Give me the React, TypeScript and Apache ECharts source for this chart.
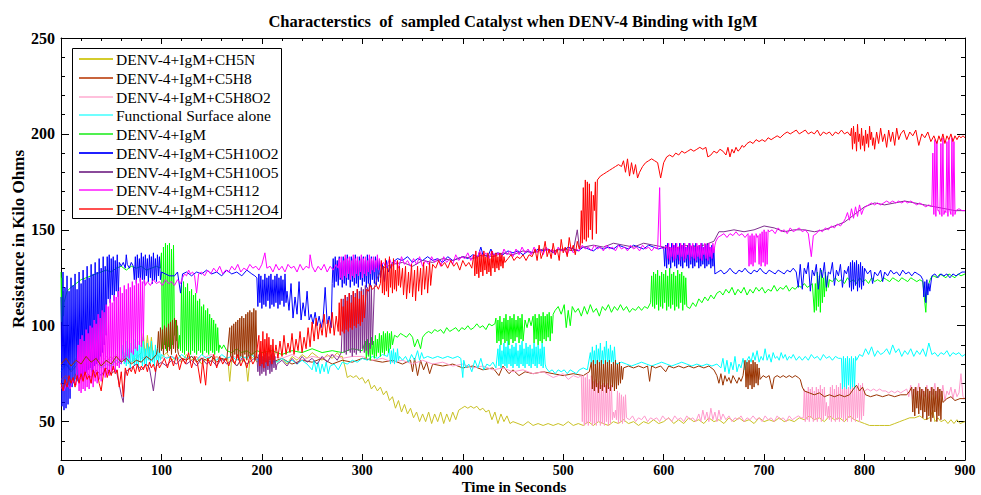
import React, { useEffect, useRef } from "react";
import * as echarts from "echarts";

// ---------- labels ----------
const TITLE = "Characterstics  of  sampled Catalyst when DENV-4 Binding with IgM";
const X_NAME = "Time in Seconds";
const Y_NAME = "Resistance in Kilo Ohms";
const Y_MAJOR = [50, 100, 150, 200, 250];

const NAMES = [
  "DENV-4+IgM+CH5N",
  "DENV-4+IgM+C5H8",
  "DENV-4+IgM+C5H8O2",
  "Functional Surface alone",
  "DENV-4+IgM",
  "DENV-4+IgM+C5H10O2",
  "DENV-4+IgM+C5H10O5",
  "DENV-4+IgM+C5H12",
  "DENV-4+IgM+C5H12O4",
];

// ---------- data: flat [time, value, time, value, ...] ----------
const ch5n = [
  0,78, 5,80, 10,76, 15,79, 20,82, 25,78, 30,80, 35,83, 40,79, 45,81, 50,84, 55,80, 60,82, 65,85, 70,81, 75,83, 80,86,
  82,96, 84,83, 86,95, 88,84, 90,94, 92,83, 95,85, 100,83, 105,86, 110,82, 115,84, 120,81, 125,85, 130,82, 135,84,
  140,80, 145,83, 150,81, 155,84, 160,82, 164,83, 166,83, 168,71, 170,83, 175,79, 180,82, 184,81, 186,71, 188,82,
  192,84, 195,81, 200,83, 205,80, 210,84, 215,81, 220,83, 225,80, 230,84, 235,82, 240,85, 245,83, 250,86, 255,84,
  260,82, 265,85, 270,83, 275,86, 278,84,
  280,84, 283,78, 285,73, 288,74, 291,73, 294,74, 297,72, 300,73, 303,70, 306,72, 309,67, 312,69, 315,66, 318,68,
  321,64, 324,66, 327,61, 330,63, 333,57, 336,61, 339,55, 342,59, 345,54, 348,57, 351,52, 354,55, 357,50, 360,54,
  363,50, 366,55, 369,49, 372,54, 375,50, 378,55, 381,49, 384,54, 387,50, 390,55, 393,51, 396,56, 399,57, 402,58,
  405,57, 408,58, 411,57, 414,58, 417,56, 420,57, 423,55, 426,56, 429,51, 432,55, 435,49, 438,54, 441,50, 444,53,
  447,49, 450,50, 455,49, 460,48, 465,50, 470,48, 475,49, 480,48, 485,49, 490,48, 495,49, 500,48, 505,50, 510,48,
  515,49, 520,48, 525,50, 530,48, 535,50, 540,49, 545,48, 550,50, 555,49, 560,51, 565,49, 570,50, 575,48, 580,50,
  585,49, 590,51, 595,49, 600,50, 605,52, 610,49, 615,51, 620,49, 625,52, 630,50, 635,51, 640,49, 645,52, 650,50,
  655,51, 660,49, 665,52, 670,50, 675,52, 680,50, 685,51, 690,49, 695,52, 700,50, 705,51, 710,50, 715,52, 720,50,
  725,51, 730,50, 735,52, 740,51, 745,53, 750,51, 755,52, 760,50, 765,53, 770,51, 775,52, 780,50, 785,53, 790,51,
  795,50, 800,49, 805,48, 810,48, 815,48, 820,48, 825,48, 830,49, 835,50, 840,51, 845,52, 850,52, 855,53, 860,51,
  865,52, 868,56, 870,50, 873,52, 876,50, 880,51, 883,49, 886,51, 889,49, 892,51, 895,49, 900,50,
];

const c5h8 = [
  0,80, 5,83, 10,79, 15,82, 20,80, 25,84, 30,81, 35,83, 40,79, 45,82, 50,80, 55,84, 60,81, 65,83, 70,80, 75,82,
  80,81, 85,84, 90,82, 95,85,
  96,88, 97,97, 98,86, 99,99, 100,87, 101,98, 102,85, 103,100, 104,88, 105,99, 106,86, 107,101, 108,87, 109,102,
  110,85, 111,103, 112,88, 113,104, 114,86, 115,103, 116,88, 117,85,
  120,83, 125,82, 130,84, 135,81, 140,83, 145,82, 150,84, 155,81, 160,83, 165,82,
  168,99, 169,84, 170,100, 171,82, 172,101, 173,85, 174,102, 175,83, 176,103, 177,82, 178,104, 179,84, 180,105,
  181,83, 182,104, 183,85, 184,106, 185,82, 186,107, 187,84, 188,108, 189,83, 190,107, 191,85, 192,109, 193,82,
  194,108, 195,84, 196,83,
  200,82, 210,81, 220,83, 230,80, 240,82, 250,81, 260,83, 270,80, 280,82, 290,81, 300,83, 310,82, 320,81, 330,82,
  340,80, 348,82, 350,76, 352,83, 355,74, 358,82, 361,77, 364,81, 367,75, 370,80, 380,79, 390,80, 400,78, 410,79,
  420,77, 430,78, 436,74, 440,79, 446,75, 450,77, 456,74, 462,76, 470,75, 480,76, 490,75, 500,74, 510,75, 520,74,
  526,76,
  528,81, 529,67, 530,82, 531,66, 532,80, 533,68, 534,82, 535,65, 536,81, 537,67, 538,82, 539,66, 540,80, 541,68,
  542,82, 543,65, 544,81, 545,67, 546,82, 547,66, 548,80, 549,68, 550,81, 551,66, 552,82, 553,67, 554,80, 555,69,
  556,81, 557,70, 558,79, 559,72, 560,78,
  565,79, 570,78, 575,79, 580,78, 584,79, 586,71, 588,79, 592,78, 597,79, 602,76, 605,79, 610,78, 615,79, 620,78,
  625,79, 630,78, 635,79, 640,78, 645,79, 650,77, 653,74, 655,70, 657,75, 659,69, 661,74, 663,71, 665,73, 667,70,
  669,74, 671,72, 673,70, 675,73, 677,71, 679,74,
  681,82, 682,68, 683,81, 684,67, 685,82, 686,69, 687,80, 688,67, 689,82, 690,68, 691,81, 692,70, 693,80, 694,69,
  695,78, 696,72,
  699,74, 702,73, 705,74, 708,67, 710,73, 713,74, 716,73, 719,74, 722,73, 725,74, 728,73, 731,74, 734,73, 736,72,
  738,68, 740,66, 745,65, 750,64, 755,65, 760,63, 765,64, 770,63, 775,64, 780,63, 785,64, 789,67, 792,69, 795,66,
  798,68, 801,64, 806,63, 812,64, 818,63, 824,64, 830,63, 836,64, 842,64, 845,66,
  847,68, 848,55, 849,67, 850,53, 851,68, 852,57, 853,66, 854,54, 855,68, 856,56, 857,67, 858,52, 859,66, 860,55,
  861,68, 862,51, 863,67, 864,53, 865,66, 866,50, 867,68, 868,52, 869,67, 870,55, 871,66, 872,50, 873,68, 874,53,
  875,67, 876,51, 877,66, 878,60,
  882,62, 886,63, 890,61, 895,62, 900,62,
];

const c5h8o2 = [
  0,80, 5,82, 10,79, 15,83, 20,80, 25,84, 30,81, 35,83, 40,80, 45,84, 50,82, 55,85, 60,82, 65,84, 70,81, 75,85,
  80,83, 85,84, 90,82, 95,85, 100,83, 110,84, 120,82, 130,84, 140,83, 150,85, 160,82, 170,84, 180,83, 190,85,
  200,82, 210,84, 220,83, 230,85, 240,82, 250,84, 260,83, 270,85, 280,83, 290,84, 300,84, 310,82, 320,83, 330,81,
  340,82, 350,80, 360,82, 370,80, 380,81, 390,79, 400,80, 410,78, 420,79, 430,77, 440,78, 450,76, 460,77, 470,75,
  480,76, 490,73, 500,75, 505,72, 510,74, 515,73, 518,74,
  519,50, 520,74, 521,48, 522,73, 523,49, 524,75, 525,48, 526,72, 527,50, 528,74, 529,48, 530,71, 531,49, 532,72,
  533,48, 534,70, 535,50, 536,71, 537,48, 538,69, 539,49, 540,70, 541,48, 542,69, 543,50, 544,70, 545,48, 546,68,
  547,49, 548,69, 549,51, 550,55, 551,52, 552,56, 553,51, 554,66, 555,49, 556,65, 557,50, 558,64, 559,49, 560,63,
  561,50, 562,64, 563,52,
  566,51, 569,53, 572,50, 575,52, 578,51, 581,53, 584,50, 587,52, 590,51, 593,52, 596,50, 599,53, 602,51, 605,52,
  608,50, 611,53, 614,51, 617,52, 620,50, 623,53, 626,51, 629,52, 632,50, 635,54, 637,50, 639,56, 641,51, 643,55,
  645,50, 647,57, 649,51, 651,55, 653,50, 655,56, 657,51, 659,54, 662,51, 665,53, 668,50, 671,52, 674,51, 677,53,
  680,50, 683,52, 686,51, 689,53, 692,51, 695,52, 698,50, 701,53, 704,51, 707,52, 710,50, 713,53, 716,51, 719,52,
  722,50, 725,53, 728,51, 731,52, 734,53, 737,52,
  739,52, 740,67, 741,50, 742,66, 743,51, 744,68, 745,50, 746,67, 747,52, 748,68, 749,50, 750,66, 751,51, 752,68,
  753,50, 754,67, 755,52, 756,69, 757,50, 758,67, 759,51, 760,68, 761,53, 762,60, 763,52, 764,58, 765,51, 766,68,
  767,50, 768,69, 769,52, 770,67, 771,50, 772,69, 773,51, 774,68, 775,50, 776,70, 777,52, 778,68, 779,50, 780,69,
  781,51, 782,70, 783,50, 784,68, 785,52, 786,70, 787,50, 788,69, 789,51, 790,70, 791,50, 792,68, 793,52, 794,70,
  795,50, 796,69, 797,51, 798,70, 799,53, 800,66,
  803,67, 806,66, 809,67, 812,66, 815,67, 818,66, 821,66, 824,65, 827,66, 830,65, 833,66, 836,65, 839,66, 842,67,
  844,63, 846,69, 848,62, 850,68, 852,64, 854,70, 856,61, 858,67, 860,63, 862,69, 864,62, 866,68, 868,64, 870,70,
  872,62, 874,67, 876,63, 878,69, 880,61, 882,66, 884,64, 886,68, 888,62, 890,67, 892,63, 894,65, 896,75, 898,63,
  900,62,
];

const surface = [
  0,76, 5,80, 10,77, 15,81, 20,78, 25,80, 30,77, 35,81, 40,78, 45,80, 50,79, 55,82, 60,80,
  62,90, 63,80, 64,86, 65,79, 66,92, 67,80, 68,88, 69,78, 70,91, 71,81, 72,87, 73,79, 74,93, 75,80, 76,89, 77,78,
  78,92, 79,81, 80,90, 81,79, 82,94, 83,80, 84,88, 85,79, 86,91, 87,82, 88,89, 89,80, 90,92, 91,81, 92,87, 93,79,
  94,90, 95,82, 96,88, 97,80, 98,89, 99,82, 100,85,
  105,83, 110,84, 115,82, 120,85, 125,83, 130,84, 135,82, 140,85, 145,83, 150,84, 155,82, 160,85, 165,83, 170,84,
  175,82, 180,84, 185,83, 190,85, 195,82, 200,84, 205,82, 210,83, 215,81, 220,83, 225,81, 230,82, 235,80, 240,82,
  245,80, 250,77, 252,82, 254,76, 256,81, 258,75, 260,80, 262,76, 264,81, 266,75, 268,79, 272,80, 276,77, 280,81,
  285,80, 290,82, 295,81, 300,83, 305,82, 310,84, 315,83, 320,85, 325,84,
  327,88, 328,80, 329,87, 330,81, 331,88, 332,80, 333,86, 334,81, 335,88, 336,82, 337,84, 340,82, 343,84, 346,81,
  349,85, 352,82, 355,87, 357,82, 359,86, 361,83, 365,84, 370,83, 375,84, 380,83, 385,84, 390,83, 395,84, 398,83,
  400,73, 401,82, 403,78, 406,80, 409,76, 412,82, 415,78, 418,83, 421,77, 424,80, 427,79, 430,81, 433,78,
  435,88, 436,79, 437,90, 438,78, 439,87, 440,80, 441,91, 442,79, 443,89, 444,78, 445,92, 446,80, 447,88, 448,79,
  449,90, 450,78, 451,89, 452,80, 453,91, 454,79, 455,87, 456,78, 457,90, 458,80, 459,92, 460,79, 461,88, 462,78,
  463,91, 464,80, 465,89, 466,79, 467,90, 468,78, 469,88, 470,80, 471,91, 472,79, 473,89, 474,78, 475,90, 476,80,
  477,88, 478,79, 479,91, 480,78, 481,89, 482,80, 483,78,
  486,76, 489,77, 492,75, 495,77, 498,76, 501,77, 504,75, 507,77, 510,76, 513,75, 516,77, 520,78, 524,77,
  527,86, 528,80, 529,89, 530,81, 531,87, 532,79, 533,90, 534,80, 535,88, 536,81, 537,91, 538,79, 539,87, 540,80,
  541,89, 542,82, 543,92, 544,80, 545,88, 546,79, 547,90, 548,81, 549,87, 550,80, 551,89, 552,81, 553,80,
  558,81, 563,80, 568,79, 573,80, 578,81, 583,80, 588,79, 593,80, 598,81, 603,80, 608,79, 613,80, 618,81, 623,80,
  628,79, 633,80, 638,79, 643,80, 648,79, 653,80, 657,78,
  659,83, 661,76, 663,82, 665,75, 667,81, 669,77, 671,84, 673,76, 675,80, 677,78, 679,83, 681,77, 683,82,
  685,84, 687,81, 689,86, 691,82, 693,87, 695,81, 697,84, 699,82, 701,88, 703,82, 705,85, 707,81, 709,86, 711,83,
  713,84, 715,82, 717,86, 719,83, 721,85, 723,82, 725,84, 727,83, 729,85,
  732,82, 735,84, 738,82, 741,84, 744,82, 747,85, 750,83, 753,84, 756,82, 759,85, 762,83, 765,84, 768,82, 771,84,
  774,83, 776,83,
  777,83, 778,67, 779,84, 780,68, 781,83, 782,67, 783,84, 784,69, 785,83, 786,67, 787,84, 788,68, 789,83, 790,67,
  791,84, 792,82,
  795,85, 798,84, 801,88, 804,85, 807,89, 810,84, 813,87, 816,85, 819,86, 822,88, 825,85, 828,90, 831,86, 834,88,
  837,84, 840,87, 843,85, 846,88, 849,84, 852,87, 855,85, 858,88, 861,84, 864,91, 867,85, 870,86, 873,84, 876,86,
  879,85, 882,87, 885,84, 888,86, 891,85, 894,86, 897,84, 900,85,
];

const igm = [
  0,128, 0.5,102, 1,125, 1.5,100, 2,118, 2.5,105, 3,112,
  6,118, 10,120, 15,122, 20,124, 25,125, 30,126, 35,127, 40,128, 45,129, 50,128, 55,130, 60,131, 65,129, 70,131,
  75,130, 80,131, 85,129, 90,130, 95,131, 99,130,
  100,138, 101,88, 102,141, 103,90, 104,143, 105,87, 106,142, 107,89, 108,143, 109,88, 110,140, 111,90, 112,142,
  113,95, 114,103, 115,92, 116,100, 117,88, 118,95, 119,87,
  120,121, 121,86, 122,123, 123,85, 124,120, 125,87, 126,122, 127,86, 128,118, 129,85, 130,119, 131,87, 132,116,
  133,86, 134,117, 135,85, 136,113, 137,87, 138,114, 139,86, 140,110, 141,85, 142,111, 143,87, 144,108, 145,86,
  146,109, 147,85, 148,106, 149,87, 150,104, 151,86, 152,103, 153,85, 154,101, 155,87, 156,99, 157,86,
  158,90, 160,88, 162,90, 165,87, 170,86, 175,88, 180,86, 185,87, 190,85, 195,87, 200,86, 210,87, 220,85, 230,87,
  240,86, 250,88, 260,86, 270,87, 280,86, 290,88, 300,87,
  303,92, 304,83, 305,93, 306,84, 307,91, 308,82, 309,94, 310,85, 311,92, 312,83, 313,95, 314,84, 315,93, 316,86,
  317,96, 318,84, 319,95, 320,86, 321,97, 322,85, 323,96, 324,87, 325,97, 326,86, 327,96, 328,88, 329,97, 330,90,
  332,95, 335,94, 338,96, 341,95, 344,94, 347,96, 350,94, 352,89, 355,93, 358,88, 360,94, 363,96, 366,97, 369,96,
  372,98, 375,97, 378,98, 381,96, 384,99, 387,97, 390,98, 393,99, 396,97, 399,99, 402,98, 405,100, 408,98, 411,99,
  414,101, 417,99, 420,100, 423,98, 426,101, 429,100, 432,101,
  433,104, 434,91, 435,103, 436,92, 437,105, 438,90, 439,102, 440,93, 441,104, 442,91, 443,106, 444,92, 445,103,
  446,90, 447,105, 448,93, 449,104, 450,91, 451,106, 452,92, 453,103, 454,94, 455,105, 456,91, 457,104, 458,93,
  459,106, 460,92, 462,103, 464,99, 466,104, 468,100, 470,105, 471,91, 472,106, 473,93, 474,104, 475,90, 476,106,
  477,92, 478,105, 479,91, 480,107, 481,93, 482,105, 483,92, 484,106, 485,94, 486,107, 487,92, 488,105, 489,96,
  490,106,
  492,108, 495,110, 498,106, 501,111, 503,99, 505,108, 507,100, 509,110, 512,107, 515,109, 518,105, 521,110,
  524,106, 527,111, 530,107, 533,109, 536,105, 539,110, 542,108, 545,111, 548,107, 551,110, 554,108, 557,111,
  560,108, 563,110, 566,107, 569,109, 572,108, 575,110, 578,108, 581,110, 584,109,
  587,112, 588,126, 589,110, 590,128, 591,109, 592,127, 593,111, 594,129, 595,108, 596,126, 597,110, 598,128,
  599,109, 600,127, 601,112, 602,129, 603,108, 604,126, 605,110, 606,130, 607,109, 608,127, 609,111, 610,128,
  611,108, 612,126, 613,110, 614,129, 615,109, 616,127, 617,112, 618,128, 619,108, 620,126, 621,111, 622,125,
  623,110,
  626,109, 629,112, 632,110, 635,114, 638,112, 641,115, 644,113, 647,116, 650,114, 653,117, 656,118, 659,116,
  662,119, 665,117, 668,120, 671,116, 674,119, 677,117, 680,120, 683,116, 686,119, 689,117, 692,120, 695,118,
  698,120, 701,117, 704,119, 707,118, 710,121, 713,118, 716,120, 719,119, 722,121, 725,118, 728,120, 731,119,
  734,121, 737,120, 740,122, 743,120, 746,121, 748,122, 750,107,
  751,122, 752,108, 753,128, 754,110, 755,126, 756,107, 757,129, 758,112, 759,125, 760,115, 761,128, 762,118,
  763,126, 764,120, 765,124,
  768,123, 771,125, 774,123, 777,124, 780,122, 783,125, 786,123, 789,124, 792,122, 795,125, 798,123, 801,124,
  804,122, 807,125, 810,123, 813,124, 816,123, 819,125, 822,124, 825,123, 828,125, 831,124, 834,123, 837,125,
  840,124, 843,123, 846,125, 849,124, 852,123, 855,124, 858,123, 860,112, 861,107, 862,118, 864,122, 866,125,
  869,126, 872,125, 875,127, 878,126, 881,125, 884,127, 887,126, 890,125, 893,127, 896,126, 900,127,
];

const c5h10o2 = [
  0,115, 1,58, 2,128, 3,56, 4,120, 5,57, 6,126, 7,59, 8,118, 9,62, 10,125, 11,68, 12,121, 13,70, 14,127, 15,72,
  16,119, 17,71, 18,128, 19,74, 20,122, 21,73, 22,129, 23,75, 24,124, 25,76, 26,131, 27,77, 28,125, 29,78, 30,132,
  31,76, 32,127, 33,79, 34,133, 35,80, 36,128, 37,82, 38,135, 39,84, 40,130, 41,86, 42,136, 43,90, 44,131, 45,95,
  46,136, 47,114, 48,137, 49,112, 50,135, 51,116, 52,136, 53,113, 54,134, 55,118, 56,137, 57,115, 58,133,
  60,131, 62,133, 64,130, 65,137, 66,132, 68,130, 70,133, 72,131,
  73,124, 74,136, 75,122, 76,137, 77,125, 78,135, 79,123, 80,138, 81,124, 82,136, 83,122, 84,137, 85,126, 86,135,
  87,123, 88,137, 89,125, 90,136, 91,122, 92,138, 93,124, 94,135, 95,123, 96,137, 97,126, 98,136, 99,124, 100,128,
  104,127, 108,126, 113,126, 116,128, 119,117, 121,127, 125,128, 130,126, 135,128, 140,127, 145,129, 150,127, 155,128,
  160,126, 165,129, 170,127, 175,128, 180,126, 185,129, 190,127, 193,126,
  195,125, 196,110, 197,127, 198,112, 199,126, 200,109, 201,124, 202,111, 203,127, 204,110, 205,125, 206,113,
  207,126, 208,109, 209,127, 210,111, 211,124, 212,110, 213,126, 214,112, 215,127, 216,109, 217,125, 218,111,
  219,126, 220,113, 221,124, 222,110, 223,127, 224,112, 225,118,
  227,108, 229,122, 231,104, 233,115, 235,106, 237,123, 239,103, 241,112, 243,105, 245,118, 247,103,
  249,106, 251,101, 253,107, 255,100, 257,105, 259,99, 261,104, 263,120, 265,101, 267,105, 269,99,
  270,122, 271,135, 272,120, 273,136, 274,123, 275,134, 276,121, 277,136, 278,124, 279,133, 280,120, 281,136,
  282,122, 283,135, 284,121, 285,137, 286,124, 287,134, 288,120, 289,136, 290,123, 291,135, 292,121, 293,137,
  294,122, 295,134, 296,120, 297,136, 298,124, 299,135, 300,121, 301,136, 302,123, 303,134, 304,120, 305,137,
  306,122, 307,135, 308,121, 309,136, 310,124, 311,134, 312,122, 313,136, 314,121, 315,135, 316,123, 317,134,
  318,125,
  320,132, 322,123, 324,134, 326,128, 330,133, 335,135, 340,134, 345,136, 350,133, 355,135, 360,134, 365,136,
  370,134, 375,135, 380,133, 385,136, 390,134, 395,135, 400,136, 405,135, 410,137, 415,136, 418,141, 420,137,
  425,136, 428,140, 430,137, 435,138, 440,137, 445,139, 450,138, 455,139, 460,137, 465,139, 470,138, 475,140,
  480,139, 485,140, 490,138, 495,140, 500,139, 505,141, 510,140, 515,139, 520,141, 525,140, 530,139, 535,141,
  540,140, 545,141, 550,140, 555,142, 560,141, 565,140, 570,142, 575,141, 580,140, 585,142, 590,141, 595,140,
  600,141,
  601,131, 602,142, 603,130, 604,143, 605,132, 606,141, 607,130, 608,143, 609,133, 610,142, 611,131, 612,143,
  613,130, 614,141, 615,132, 616,143, 617,131, 618,142, 619,130, 620,143, 621,133, 622,141, 623,131, 624,142,
  625,130, 626,143, 627,132, 628,141, 629,130, 630,142, 631,131, 632,143, 633,133, 634,141, 635,130, 636,142,
  637,131, 638,143, 639,132, 640,141, 641,130, 642,142, 643,131, 644,143, 645,132, 646,141, 647,130, 648,142,
  649,131, 650,140, 651,127,
  654,128, 657,129, 660,127, 663,128, 666,130, 669,128, 672,127, 675,129, 678,128, 681,130, 684,128, 687,127,
  690,129, 693,128, 696,130, 699,128, 702,127, 705,129, 708,128, 711,127, 714,129, 717,128, 720,127, 723,129,
  726,128, 729,130, 732,128,
  734,120, 736,132, 738,119, 740,130, 742,127, 744,133, 746,118, 748,129, 750,126, 752,132, 754,119, 756,130,
  758,125, 760,133, 762,120, 764,128, 766,127, 768,133, 770,121, 772,129, 774,126, 776,132, 778,120, 780,129,
  782,127, 784,131,
  785,120, 786,133, 787,118, 788,134, 789,119, 790,133, 791,121, 792,134, 793,118, 794,132, 795,120, 796,133,
  797,119, 798,131, 799,121, 800,130,
  803,127, 806,129, 808,122, 810,128, 813,126, 816,129, 818,123, 820,128, 823,126, 826,129, 829,127, 832,128,
  835,126, 838,129, 841,127, 844,128, 847,126, 850,128, 853,127, 856,126,
  858,124, 859,115, 860,123, 861,112, 862,124, 863,116, 864,122, 865,118,
  867,126, 870,127, 873,125, 876,127, 879,126, 882,127, 885,125, 888,127, 891,126, 894,127, 897,128, 900,128,
];

const c5h10o5 = [
  0,72, 5,74, 10,70, 15,75, 20,72, 25,76, 30,73, 35,77, 40,74, 45,78, 50,75, 55,77, 60,64, 62,60, 64,76, 70,78,
  75,80, 80,77, 85,80, 88,78, 92,66, 95,79, 100,81, 105,79, 110,82, 115,80, 120,83, 125,80, 130,82, 135,79,
  140,83, 145,80, 150,82, 155,79, 160,83, 165,80, 170,82, 175,79, 180,83, 185,80, 190,82,
  195,84, 196,76, 197,85, 198,74, 199,86, 200,75, 201,84, 202,76, 203,85, 204,74, 205,86, 206,77, 207,84, 208,75,
  209,85, 210,76, 211,86, 212,78, 213,84, 214,77, 215,80,
  220,82, 225,79, 230,83, 235,80, 240,84, 245,81, 250,83, 255,80, 260,84, 265,81, 270,85, 275,82, 279,86,
  281,114, 282,86, 283,116, 284,85, 285,115, 286,87, 287,117, 288,86, 289,116, 290,84, 291,118, 292,86, 293,117,
  294,85, 295,119, 296,87, 297,118, 298,86, 299,120, 300,88, 301,119, 302,86, 303,121, 304,87, 305,120, 306,85,
  307,122, 308,88, 309,121, 310,90,
  312,120, 315,125, 318,128, 320,130, 330,132, 340,133, 350,131, 360,134, 370,133, 380,135, 390,134, 400,136,
  410,135, 420,137, 430,136, 440,138, 450,137, 460,139, 470,138, 480,140, 490,139, 500,140, 510,139, 514,150,
  516,141, 520,141, 530,142, 540,141, 550,143, 560,142, 570,141, 580,143, 590,142, 600,141, 610,140, 620,142,
  630,141, 640,142, 650,144, 655,149, 660,149, 670,150, 680,149, 690,150, 700,152, 710,151, 720,149, 730,150,
  740,150, 750,149, 760,150, 770,152, 780,154, 790,158, 800,162, 810,164, 820,163, 830,164, 840,165, 850,164,
  860,163, 870,162, 880,161, 890,160, 900,160,
];

const c5h12 = [
  0,68, 3,66, 6,70, 9,67, 12,72, 15,69,
  17,90, 18,66, 19,93, 20,65, 21,95, 22,67, 23,92, 24,66, 25,98, 26,68, 27,96, 28,67, 29,100, 30,70, 31,99, 32,68,
  33,103, 34,71, 35,101, 36,70, 37,106, 38,72, 39,104, 40,71, 41,108, 42,74, 43,107, 44,73, 45,111, 46,75, 47,110,
  48,74, 49,114, 50,76, 51,112, 52,77, 53,116, 54,76, 55,115, 56,79, 57,118, 58,78, 59,120, 60,80, 61,117, 62,82,
  63,121, 64,81, 65,119, 66,84, 67,122, 68,83, 69,120, 70,86, 71,123, 72,85, 73,121, 74,88, 75,124, 76,87, 77,122,
  78,90, 79,125, 80,89, 81,123, 82,92, 83,124, 84,121,
  86,123, 89,121, 92,124, 95,122, 98,123, 101,121, 104,124, 107,122, 110,123, 113,121, 116,124, 119,122, 121,125,
  123,127, 125,126, 127,129, 129,127, 131,128, 133,126, 135,117, 137,127, 140,128, 143,126, 146,129, 149,127,
  152,130, 155,128, 158,131, 161,127, 164,129, 167,128, 170,131, 173,129, 176,132, 179,128, 182,130, 185,129,
  188,132, 191,130, 194,131, 197,129, 200,132, 203,138, 205,130, 208,131, 211,128, 214,132, 217,129, 220,131,
  223,128, 226,132, 229,130, 232,131, 235,128, 238,132, 241,129, 244,131, 247,130, 248,137, 250,131, 253,128,
  256,131, 259,129, 262,132, 265,128, 268,131, 271,129, 274,132,
  276,130, 277,135, 278,125, 279,136, 280,124, 281,134, 282,126, 283,137, 284,125, 285,135, 286,127, 287,136,
  288,124, 289,134, 290,126, 291,137, 292,125, 293,135, 294,127, 295,136, 296,126, 297,134, 298,128, 299,137,
  300,125, 301,135, 302,127, 303,136, 304,126, 305,134, 306,128, 307,137, 308,127, 309,135, 310,129, 311,136,
  312,128, 313,134, 314,130, 315,137, 316,129, 317,135, 318,131,
  321,133, 324,130, 327,135, 330,131, 333,134, 336,130, 339,136, 342,132, 345,134, 348,131, 351,135, 354,132,
  357,136, 360,131, 363,134, 366,132, 369,136, 372,133, 375,135, 378,131, 381,136, 384,133, 387,135, 390,132,
  393,137, 396,134, 399,136, 402,135, 405,138, 408,134, 411,137, 414,135, 417,139, 420,136, 423,138, 426,135,
  429,139, 432,136, 435,138, 438,135, 441,140, 444,137, 447,139, 450,136, 453,140, 456,137, 459,141, 462,138,
  465,140, 468,137, 471,141, 474,138, 477,140, 480,137, 483,141, 486,138, 489,140, 492,137, 495,141, 498,139,
  501,140, 504,137, 507,141, 510,138, 513,140, 516,139, 519,142, 522,140, 525,141, 528,139, 531,142, 534,140,
  537,141, 540,139, 543,142, 546,140, 549,141, 552,139, 555,142, 558,140, 561,141, 564,139, 567,142, 570,140,
  573,141, 576,139, 579,142, 582,140, 585,141, 588,139, 591,141, 594,140, 596,172, 597,141, 600,140,
  603,142, 604,135, 605,143, 606,134, 607,141, 608,136, 609,143, 610,134, 611,142, 612,135, 613,143, 614,137,
  615,141, 616,134, 617,143, 618,136, 619,142, 620,134, 621,143, 622,135, 623,141, 624,137, 625,143, 626,134,
  627,142, 628,136, 629,143, 630,135, 631,141, 632,134, 633,143, 634,136, 635,142, 636,135, 637,143, 638,134,
  639,141, 640,137, 641,143, 642,135, 643,142, 644,134, 645,143, 646,136, 647,141, 648,135, 649,143, 650,138,
  651,142,
  652,144, 654,146, 657,147, 660,148, 663,146, 666,148, 669,147, 672,149, 675,147, 678,148, 681,146, 684,148,
  685,131, 686,147, 687,132, 688,148, 689,131, 690,147, 691,133, 692,148, 693,146, 694,147,
  695,132, 696,148, 697,131, 698,149, 699,133, 700,150, 701,131, 702,149, 703,132, 704,150, 705,149,
  708,150, 711,148, 714,151, 717,149, 720,150, 723,148, 726,151, 729,149, 732,150, 735,151, 738,149, 741,150,
  744,148, 747,136, 749,147, 752,148, 755,150, 758,149, 761,151, 764,150, 767,152, 770,151, 773,153, 776,152,
  779,154, 781,156, 783,159, 785,155, 787,161, 789,156, 791,162, 793,157, 795,163, 797,158, 799,161, 801,162,
  804,163, 807,164, 810,163, 813,164, 816,163, 819,164, 822,165, 825,164, 828,165, 831,164, 834,165, 837,164,
  840,165, 843,164, 846,165, 849,164, 852,163, 855,164, 858,163, 861,162, 864,163, 867,162,
  868,190, 869,158, 870,197, 871,157, 872,196, 873,160, 874,160, 875,158, 876,195, 877,157, 878,198, 879,158,
  880,160, 881,159, 882,196, 883,157, 884,197, 885,160, 886,158, 887,198, 888,157, 889,196, 890,158, 891,160,
  894,161, 897,160, 900,160,
];

const c5h12o4 = [
  0,70, 2,66, 4,72, 6,68, 8,74, 10,70, 12,73, 14,68, 16,74, 18,70, 20,75, 22,71, 24,76, 26,72, 28,74, 30,70,
  32,77, 34,73, 36,76, 38,70, 40,66, 42,74, 44,78, 46,73, 48,77, 50,74, 52,79, 54,75, 56,77, 58,68, 60,76, 62,63,
  64,78, 66,74, 68,78, 70,76, 72,79, 74,75, 76,80, 78,76, 80,79, 82,77, 84,80, 86,76, 88,81, 90,78, 92,80, 94,76,
  96,82, 98,78, 100,80,
  103,83, 106,78, 109,84, 112,79, 115,85, 118,77, 121,83, 124,80, 127,86, 130,78, 133,84, 136,80, 139,70, 141,82,
  144,69, 146,83, 149,79, 152,85, 155,78, 158,84, 161,80, 164,83, 167,79, 170,84, 173,80, 176,85, 179,79, 182,83,
  185,78, 188,84, 191,80, 194,83,
  197,95, 198,79, 199,92, 200,80, 201,97, 202,78, 203,93, 204,81, 205,96, 206,79, 207,94, 208,82, 209,90, 210,80,
  211,93, 212,82,
  214,90, 216,83, 218,92, 220,84, 222,95, 224,85, 226,91, 228,86, 230,96, 232,85, 234,93, 236,87, 238,97, 240,86,
  242,94, 244,88, 246,99, 248,89,
  250,102, 252,92, 254,104, 256,93, 258,101, 260,95, 262,106, 264,94, 266,103, 268,96, 270,107, 272,95, 274,105,
  276,97,
  277,112, 278,95, 279,114, 280,97, 281,110, 282,96, 283,116, 284,98, 285,113, 286,97, 287,117, 288,99, 289,112,
  290,98, 291,118, 292,100, 293,115, 294,99, 295,119, 296,101, 297,114, 298,100, 299,118, 300,102, 301,116,
  302,104,
  304,119, 306,118, 308,121, 310,119, 312,120, 314,121, 316,119, 318,122,
  319,134, 320,117, 321,131, 322,116, 323,135, 324,118, 325,130, 326,115, 327,136, 328,120, 329,132, 330,117,
  331,135, 332,119, 333,129, 334,118, 335,134, 336,121, 337,131, 338,120,
  340,130, 341,116, 343,131, 344,114, 346,128, 347,117, 349,132, 350,115, 352,129, 353,113, 355,131, 356,118,
  358,130, 359,116, 361,133, 362,119, 364,131, 365,117, 367,133, 368,121, 370,132,
  373,130, 376,134, 379,131, 382,133, 385,130, 388,134, 391,131, 394,133, 397,129, 400,134, 403,131, 406,133,
  409,130,
  411,137, 412,126, 413,139, 414,127, 415,136, 416,125, 417,138, 418,128, 419,137, 420,126, 421,139, 422,129,
  423,136, 424,127, 425,138, 426,128, 427,135, 428,126, 429,139, 430,130, 431,137, 432,128, 433,138, 434,130,
  435,136, 436,129, 437,138, 438,131, 439,137, 440,130, 441,136, 442,133,
  445,135, 448,137, 451,134, 454,136, 457,135, 460,137, 463,134, 466,137, 469,136,
  472,140, 474,134, 476,142, 478,135, 480,138, 482,144, 484,136, 486,140, 488,135, 490,143, 492,137, 494,140,
  496,134, 498,145, 500,138, 502,141, 504,136, 506,146, 508,139, 510,142, 512,137, 514,144, 516,140,
  517,142, 518,160, 519,143, 520,172, 521,145, 522,176, 523,144, 524,175, 525,146, 526,174, 527,150, 528,170,
  529,145, 530,168, 531,160, 532,175, 533,148, 534,176,
  537,178, 540,179, 543,180, 546,181, 549,182, 552,183, 555,184, 558,183, 560,186, 562,180, 564,187, 566,178,
  568,185, 570,179, 572,184, 574,177, 576,180, 579,183, 582,185, 585,186, 588,187, 591,186, 594,185, 597,177,
  600,185, 603,188, 606,189, 609,188, 612,190, 615,189, 618,191, 621,190, 624,191, 627,192, 630,191, 633,192,
  636,193, 639,192, 642,193, 644,188, 647,189, 650,191, 653,190, 656,192, 659,191, 662,189, 664,193, 666,188,
  668,192, 670,190, 672,193, 674,191, 676,192, 678,194, 680,193, 683,195, 686,196, 689,195, 692,197, 695,196,
  698,197, 701,196, 704,198, 707,197, 710,198, 713,199, 716,198, 720,200, 723,201, 726,200, 729,201, 732,202,
  735,200, 738,201, 741,202, 744,200, 747,201, 750,200, 753,202, 756,199, 759,201, 762,200, 765,201, 768,199,
  771,201, 774,200, 777,202, 780,200, 783,201, 786,199,
  787,203, 788,192, 789,204, 790,195, 791,201, 792,191, 793,205, 794,196, 795,200, 796,192, 797,203, 798,194,
  799,199, 800,191, 801,202, 802,195, 803,200, 804,193, 805,204, 806,197, 807,201, 808,194, 809,198, 810,192,
  812,201, 814,195, 816,203, 818,196, 820,200, 822,193, 824,202, 826,196, 828,201, 830,194, 832,203, 834,197,
  836,200,
  839,202, 842,197, 845,201, 848,199, 851,202, 854,194, 857,200, 860,198, 863,201, 866,196, 869,199,
  872,195, 874,199, 876,196, 878,200, 880,195, 882,199, 884,197, 886,200, 888,196, 890,199, 892,197, 894,199,
  896,198, 898,199, 900,198,
];

// series in legend order
const SERIES_DATA = [ch5n, c5h8, c5h8o2, surface, igm, c5h10o2, c5h10o5, c5h12, c5h12o4];
const COLORS = ["#c9c124", "#993300", "#ff99cc", "#00ffff", "#00ff00", "#0000ff", "#7e2f8e", "#ff00ff", "#ff0000"];
const LEGEND_COLORS = ["#d4cc2c", "#c8643c", "#ffc0dc", "#70ffff", "#50f050", "#2020ff", "#8a4a9a", "#ff50ff", "#ff5050"];

// drawing layers (bottom -> top): [series index, from time, to time]
const LAYERS: [number, number, number][] = [
  [0, 0, 900],
  [1, 196, 528],
  [2, 0, 900],
  [3, 0, 900],
  [4, 0, 900],
  [5, 0, 900],
  [6, 0, 900],
  [7, 0, 900],
  [1, 0, 196],
  [1, 528, 900],
  [8, 0, 900],
];

const FONT = "'Liberation Serif', 'Times New Roman', serif";

function toPairs(flat: number[], t0: number, t1: number): number[][] {
  const out: number[][] = [];
  for (let i = 0; i + 1 < flat.length; i += 2) {
    if (flat[i] >= t0 && flat[i] <= t1) out.push([flat[i], flat[i + 1]]);
  }
  return out;
}

// legend box geometry (pixels)
const LEG = { x: 72, y: 48, w: 209, h: 170, row0: 59, rowStep: 18.75, lineX1: 79, lineX2: 113, textX: 116 };

export default function App() {
  const ref = useRef<HTMLDivElement>(null);

  useEffect(() => {
    if (!ref.current) return;
    const chart = echarts.init(ref.current, undefined, { renderer: "svg" });

    const axisLineStyle = { show: true, onZero: false, lineStyle: { color: "#000", width: 1 } };
    const tickColor = { color: "#000", width: 1 };

    const baseX = {
      type: "value",
      min: 0,
      max: 900,
      interval: 100,
      axisLine: axisLineStyle,
      axisTick: { show: true, inside: true, length: 6, lineStyle: tickColor },
      minorTick: { show: true, splitNumber: 5, length: 3, lineStyle: tickColor },
      splitLine: { show: false },
      minorSplitLine: { show: false },
    };

    const graphicElements: any[] = [
      {
        type: "text",
        x: 18,
        y: 239,
        rotation: Math.PI / 2,
        style: {
          text: Y_NAME, fontFamily: FONT, fontSize: 17, fontWeight: "bold", fill: "#000",
          align: "center", verticalAlign: "middle",
        },
        z: 100,
      },
      {
        type: "text",
        x: 514,
        y: 487,
        style: {
          text: X_NAME, fontFamily: FONT, fontSize: 15, fontWeight: "bold", fill: "#000",
          align: "center", verticalAlign: "middle",
        },
        z: 100,
      },
      {
        type: "rect",
        shape: { x: LEG.x + 0.5, y: LEG.y + 0.5, width: LEG.w, height: LEG.h },
        style: { fill: "#fff", stroke: "#000", lineWidth: 1 },
        z: 100,
      },
    ];
    NAMES.forEach((name, i) => {
      const y = Math.round(LEG.row0 + i * LEG.rowStep);
      graphicElements.push({
        type: "line",
        shape: { x1: LEG.lineX1, y1: y, x2: LEG.lineX2, y2: y },
        style: { stroke: LEGEND_COLORS[i], lineWidth: 2 },
        z: 101,
      });
      graphicElements.push({
        type: "text",
        x: LEG.textX,
        y: y,
        style: { text: name, fontFamily: FONT, fontSize: 15.5, fill: "#000", verticalAlign: "middle", align: "left" },
        z: 101,
      });
    });

    const option: any = {
      animation: false,
      backgroundColor: "#ffffff",
      title: {
        text: TITLE,
        left: 508,
        top: 8,
        textAlign: "center",
        textStyle: { fontFamily: FONT, fontSize: 16.5, fontWeight: "bold", color: "#000" },
      },
      graphic: { elements: graphicElements },
      grid: { left: 61, right: 16, top: 38, bottom: 35, containLabel: false, outerBoundsMode: "none" },
      xAxis: [
        {
          ...baseX,
          position: "bottom",
          axisLabel: { color: "#000", fontFamily: FONT, fontWeight: "bold", fontSize: 14, margin: 3 },
        },
        { ...baseX, position: "top", axisLabel: { show: false } },
      ],
      yAxis: [
        {
          type: "value", min: 30, max: 250, interval: 10, position: "left",
          axisLine: axisLineStyle,
          axisTick: { show: true, inside: true, length: 4, lineStyle: tickColor },
          axisLabel: { show: false }, splitLine: { show: false },
        },
        {
          type: "value", min: 30, max: 250, position: "left",
          axisLine: { show: false, onZero: false },
          axisTick: { show: true, inside: true, length: 8, customValues: Y_MAJOR, lineStyle: tickColor },
          axisLabel: { customValues: Y_MAJOR, color: "#000", fontFamily: FONT, fontWeight: "bold", fontSize: 16, margin: 6 },
          splitLine: { show: false },
        },
        {
          type: "value", min: 30, max: 250, interval: 10, position: "right",
          axisLine: axisLineStyle,
          axisTick: { show: true, inside: true, length: 4, lineStyle: tickColor },
          axisLabel: { show: false }, splitLine: { show: false },
        },
        {
          type: "value", min: 30, max: 250, position: "right",
          axisLine: { show: false, onZero: false },
          axisTick: { show: true, inside: true, length: 8, customValues: Y_MAJOR, lineStyle: tickColor },
          axisLabel: { show: false }, splitLine: { show: false },
        },
      ],
      series: LAYERS.map(([i, t0, t1]) => ({
        name: NAMES[i],
        type: "line",
        xAxisIndex: 0,
        yAxisIndex: 0,
        data: toPairs(SERIES_DATA[i], t0, t1),
        symbol: "none",
        showSymbol: false,
        clip: true,
        color: COLORS[i],
        lineStyle: { color: COLORS[i], width: 1 },
        emphasis: { disabled: true },
        silent: true,
      })),
    };

    chart.setOption(option);
    return () => chart.dispose();
  }, []);

  return (
    <div
      ref={ref}
      style={{ position: "fixed", left: 0, top: 0, width: 981, height: 495, background: "#fff" }}
    />
  );
}
